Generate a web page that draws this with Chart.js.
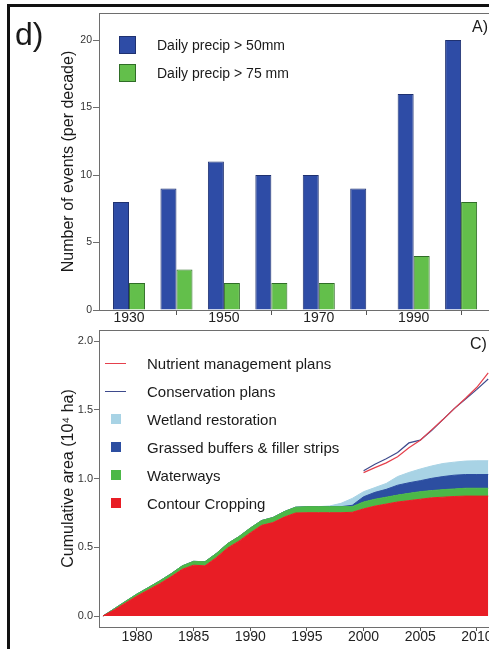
<!DOCTYPE html>
<html>
<head>
<meta charset="utf-8">
<script src="https://cdn.jsdelivr.net/npm/chart.js@4.4.1/dist/chart.umd.min.js"></script>
<style>
  html, body { margin: 0; padding: 0; background: #fff; overflow: hidden; }
  body { width: 489px; height: 649px; position: relative; font-family: 'Liberation Sans', Arial, sans-serif; color: #1a1a1a; }
  .frame { position: absolute; left: 7px; top: 4px; width: 600px; height: 700px; border-top: 3px solid #111; border-left: 3px solid #111; }
  .wrap { position: absolute; left: 0; }
  #wrap-events { top: 0; width: 500px; height: 330px; }
  #wrap-area { top: 320px; width: 500px; height: 329px; }
  .tag { position: absolute; line-height: 1; white-space: nowrap; }
  .legend { position: absolute; }
  .legend .row { position: absolute; left: 0; display: flex; align-items: center; white-space: nowrap; }
  .legend .slot { display: flex; align-items: center; justify-content: center; flex: none; }
</style>
</head>
<body>
<div class="frame"></div>
<div class="wrap" id="wrap-events"><canvas id="chart-events" width="500" height="330"></canvas></div>
<div class="wrap" id="wrap-area"><canvas id="chart-area" width="500" height="329"></canvas></div>

<div class="tag" style="left:15px; top:18px; font-size:32px;">d)</div>
<div class="tag" style="left:472px; top:19px; font-size:16px;">A)</div>
<div class="tag" style="left:470px; top:336px; font-size:16px;">C)</div>

<div class="legend" id="legend-events" style="left:119px; top:36px;"></div>
<div class="legend" id="legend-area" style="left:105px; top:356px;"></div>

<script>
// ---- panel A: extreme precipitation events per decade ----
const decades = [1930, 1940, 1950, 1960, 1970, 1980, 1990, 2000];
const precip50 = [8, 9, 11, 10, 10, 9, 16, 20];
const precip75 = [2, 3, 2, 2, 2, null, 4, 8];
const decadeLabels = [1930, 1950, 1970, 1990];
const decadeMarks = [1940, 1960, 1980, 2000];
const eventTicks = [0, 5, 10, 15, 20];

// ---- panel C: cumulative area of practices (10^4 ha) ----
const years = [1977, 1978, 1979, 1980, 1981, 1982, 1983, 1984, 1985, 1986,
               1987, 1988, 1989, 1990, 1991, 1992, 1993, 1994, 1995, 1996,
               1997, 1998, 1999, 2000, 2001, 2002, 2003, 2004, 2005, 2006,
               2007, 2008, 2009, 2010, 2011];
const contourCropping = [0, 0.045, 0.095, 0.145, 0.19, 0.235, 0.285, 0.34, 0.37, 0.365,
                         0.425, 0.495, 0.545, 0.605, 0.66, 0.68, 0.72, 0.75, 0.752, 0.752,
                         0.752, 0.752, 0.755, 0.78, 0.80, 0.815, 0.83, 0.84, 0.85, 0.86,
                         0.865, 0.87, 0.873, 0.873, 0.873];
const waterways = [0, 0.008, 0.012, 0.015, 0.017, 0.02, 0.022, 0.025, 0.028, 0.03,
                   0.03, 0.032, 0.033, 0.035, 0.035, 0.037, 0.04, 0.042, 0.044, 0.044,
                   0.044, 0.044, 0.041, 0.05, 0.05, 0.05, 0.05, 0.053, 0.055, 0.053,
                   0.055, 0.055, 0.057, 0.057, 0.057];
const grassedBuffers = [0, 0, 0, 0, 0, 0, 0, 0, 0, 0,
                        0, 0, 0, 0, 0, 0, 0, 0, 0, 0,
                        0, 0, 0.01, 0.038, 0.05, 0.057, 0.072, 0.077, 0.08, 0.089,
                        0.095, 0.1, 0.1, 0.1, 0.1];
const wetlandRestoration = [0, 0, 0, 0, 0, 0, 0, 0, 0, 0,
                            0, 0, 0, 0, 0, 0, 0, 0, 0, 0,
                            0.005, 0.024, 0.05, 0.037, 0.035, 0.043, 0.063, 0.075, 0.085, 0.09,
                            0.095, 0.095, 0.098, 0.1, 0.1];
const nutrientPlans = [null, null, null, null, null, null, null, null, null, null,
                       null, null, null, null, null, null, null, null, null, null,
                       null, null, null, 1.044, 1.08, 1.115, 1.16, 1.225, 1.28, 1.355,
                       1.43, 1.51, 1.585, 1.665, 1.77];
const conservationPlans = [null, null, null, null, null, null, null, null, null, null,
                           null, null, null, null, null, null, null, null, null, null,
                           null, null, null, 1.058, 1.105, 1.145, 1.19, 1.26, 1.28, 1.35,
                           1.43, 1.51, 1.58, 1.65, 1.725];
const yearTicks = [1980, 1985, 1990, 1995, 2000, 2005, 2010];
const areaTicks = [0, 0.5, 1.0, 1.5, 2.0];

Chart.defaults.font.family = "'Liberation Sans', Arial, sans-serif";
Chart.defaults.color = '#222';

const AXIS = '#6e6e6e';

// top edge of each panel box
const panelFrame = {
    id: 'panelFrame',
    afterDraw: function(chart) {
        const a = chart.chartArea;
        const ctx = chart.ctx;
        ctx.save();
        ctx.strokeStyle = AXIS;
        ctx.lineWidth = 1;
        ctx.beginPath();
        ctx.moveTo(a.left, a.top + 0.5);
        ctx.lineTo(chart.width, a.top + 0.5);
        ctx.stroke();
        ctx.restore();
    }
};

function setTicks(values) {
    return function(scale) { scale.ticks = values.map(v => ({ value: v })); };
}

const eventsChart = new Chart(document.getElementById('chart-events'), {
    type: 'bar',
    data: {
        labels: decades,
        datasets: [
            { label: 'Daily precip > 50mm', data: precip50, backgroundColor: '#2e4ca6', borderColor: '#1f3170', borderWidth: 1 },
            { label: 'Daily precip > 75 mm', data: precip75, backgroundColor: '#63bf4b', borderColor: '#2f6d27', borderWidth: 1 }
        ]
    },
    options: {
        responsive: false,
        animation: false,
        layout: { padding: { left: 50, top: 13, right: 0, bottom: 0 } },
        datasets: { bar: { barPercentage: 1, categoryPercentage: 0.675 } },
        plugins: { legend: { display: false }, tooltip: { enabled: false } },
        scales: {
            x: {
                type: 'linear', min: 1923.67, max: 2008.2, offset: false,
                afterBuildTicks: setTicks(decadeLabels.concat(decadeMarks).sort()),
                afterFit: s => { s.height = 20; },
                ticks: {
                    autoSkip: false, maxRotation: 0, padding: -5, color: '#222', font: { size: 14 },
                    callback: v => decadeLabels.includes(v) ? String(v) : ''
                },
                grid: {
                    offset: false, drawOnChartArea: false, tickLength: 5, tickWidth: 1,
                    tickColor: c => (c.tick && decadeMarks.includes(c.tick.value)) ? '#555' : 'rgba(0,0,0,0)'
                },
                border: { color: AXIS }
            },
            y: {
                min: 0, max: 22,
                afterBuildTicks: setTicks(eventTicks),
                afterFit: s => { s.width = 49; },
                ticks: { padding: 1, color: '#333', font: { size: 10.5 } },
                grid: { drawOnChartArea: false, tickLength: 6, tickColor: AXIS },
                border: { color: AXIS },
                title: { display: true, text: 'Number of events (per decade)', color: '#1a1a1a', font: { size: 16 }, padding: { top: 9, bottom: 0 } }
            }
        }
    },
    plugins: [panelFrame]
});

const areaChart = new Chart(document.getElementById('chart-area'), {
    type: 'line',
    data: {
        labels: years,
        datasets: [
            { label: 'Contour Cropping', data: contourCropping, backgroundColor: '#e81d25', borderColor: '#e81d25', fill: 'origin', stack: 'area' },
            { label: 'Waterways', data: waterways, backgroundColor: '#4cb847', borderColor: '#4cb847', fill: '-1', stack: 'area' },
            { label: 'Grassed buffers & filler strips', data: grassedBuffers, backgroundColor: '#2c4ea1', borderColor: '#2c4ea1', fill: '-1', stack: 'area' },
            { label: 'Wetland restoration', data: wetlandRestoration, backgroundColor: '#a8d3e5', borderColor: '#a8d3e5', fill: '-1', stack: 'area' },
            { label: 'Nutrient management plans', data: nutrientPlans, borderColor: '#e5404c', backgroundColor: '#e5404c', fill: false, stack: 'nmp', borderWidth: 1.2 },
            { label: 'Conservation plans', data: conservationPlans, borderColor: '#3e4a8c', backgroundColor: '#3e4a8c', fill: false, stack: 'cp', borderWidth: 1.2 }
        ]
    },
    options: {
        responsive: false,
        animation: false,
        layout: { padding: { left: 50, top: 10, right: 0, bottom: 0 } },
        elements: { point: { radius: 0 }, line: { borderWidth: 1, tension: 0 } },
        plugins: { legend: { display: false }, tooltip: { enabled: false } },
        scales: {
            x: {
                type: 'linear', min: 1976.65, max: 2012.04,
                afterBuildTicks: setTicks(yearTicks),
                afterFit: s => { s.height = 22; },
                ticks: { autoSkip: false, maxRotation: 0, padding: -2, color: '#222', font: { size: 14 }, callback: v => String(v) },
                grid: { drawOnChartArea: false, tickLength: 4, tickColor: '#555' },
                border: { color: AXIS }
            },
            y: {
                stacked: true, min: -0.08, max: 2.082,
                afterBuildTicks: setTicks(areaTicks),
                afterFit: s => { s.width = 49; },
                ticks: { padding: 1, color: '#333', font: { size: 11 }, callback: v => Number(v).toFixed(1) },
                grid: { drawOnChartArea: false, tickLength: 5, tickColor: AXIS },
                border: { color: AXIS },
                title: { display: true, text: 'Cumulative area (10\u2074 ha)', color: '#1a1a1a', font: { size: 16 }, padding: { top: 9, bottom: 0 } }
            }
        }
    },
    plugins: [panelFrame]
});

// legends drawn inside the plot boxes, built from the datasets
function buildLegend(elId, chart, order, opts) {
    const el = document.getElementById(elId);
    order.forEach((item, i) => {
        const ds = chart.data.datasets[item.index];
        const row = document.createElement('div');
        row.className = 'row';
        row.style.top = (i * opts.step) + 'px';
        row.style.height = opts.rowHeight + 'px';
        row.style.fontSize = opts.fontSize + 'px';
        const slot = document.createElement('div');
        slot.className = 'slot';
        slot.style.width = opts.slotWidth + 'px';
        slot.style.height = opts.rowHeight + 'px';
        const sw = document.createElement('div');
        if (item.kind === 'line') {
            sw.style.width = opts.slotWidth + 'px';
            sw.style.height = '1px';
            sw.style.background = ds.borderColor;
        } else {
            sw.style.width = opts.box + 'px';
            sw.style.height = opts.boxH + 'px';
            sw.style.boxSizing = 'border-box';
            sw.style.background = ds.backgroundColor;
            if (opts.boxBorder) sw.style.border = '1px solid ' + ds.borderColor;
        }
        slot.appendChild(sw);
        const txt = document.createElement('span');
        txt.textContent = ds.label;
        txt.style.marginLeft = opts.gap + 'px';
        row.appendChild(slot);
        row.appendChild(txt);
        el.appendChild(row);
    });
}

buildLegend('legend-events', eventsChart,
    [{ index: 0, kind: 'box' }, { index: 1, kind: 'box' }],
    { step: 28, rowHeight: 18, fontSize: 14, slotWidth: 17, box: 17, boxH: 18, boxBorder: true, gap: 21 });

buildLegend('legend-area', areaChart,
    [{ index: 4, kind: 'line' }, { index: 5, kind: 'line' }, { index: 3, kind: 'box' },
     { index: 2, kind: 'box' }, { index: 1, kind: 'box' }, { index: 0, kind: 'box' }],
    { step: 28, rowHeight: 14, fontSize: 15, slotWidth: 21, box: 10, boxH: 10, boxBorder: false, gap: 21 });
</script>
</body>
</html>
